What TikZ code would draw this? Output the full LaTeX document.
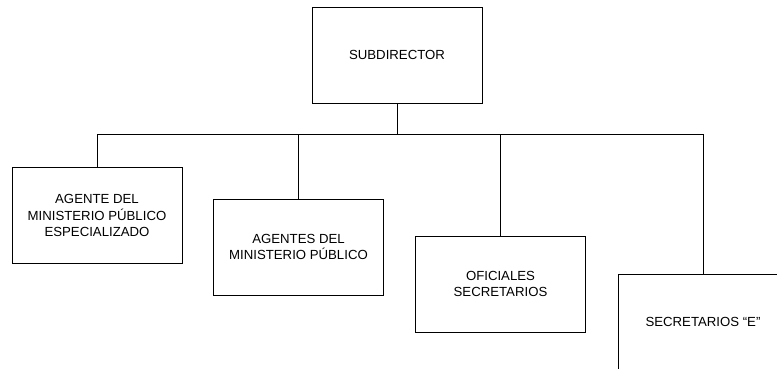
\documentclass[tikz,border=0pt]{standalone}
\usepackage{fontspec}
\setmainfont{Liberation Sans}
\begin{document}
\begin{tikzpicture}[x=1pt,y=-1pt,
  orgbox/.style={draw, line width=0.8pt, minimum width=170pt, minimum height=96pt, align=center, inner sep=0pt, font=\fontsize{13.2}{16.5}\selectfont},
  conn/.style={line width=0.8pt}]
\path[use as bounding box, clip] (0,0) rectangle (777,368);
\node[orgbox] (sub) at (397,55) {SUBDIRECTOR};
\node[orgbox] (a1) at (97,215.5) {AGENTE DEL\\MINISTERIO PÚBLICO\\ESPECIALIZADO};
\node[orgbox] (a2) at (298.5,247) {AGENTES DEL\\MINISTERIO PÚBLICO};
\node[orgbox] (a3) at (500.5,284) {OFICIALES\\SECRETARIOS};
\node[orgbox] (a4) at (703,322) {SECRETARIOS “E”};
\coordinate (jL) at (97,134);
\coordinate (jR) at (704,134);
\draw[conn] (jL) -- (jR);
\draw[conn] (sub.south) -- (sub.south|-jL);
\draw[conn] (a1.north) -- (a1.north|-jL);
\draw[conn] (a2.north) -- (a2.north|-jL);
\draw[conn] (a3.north) -- (a3.north|-jL);
\draw[conn] (a4.north) -- (a4.north|-jL);
\end{tikzpicture}
\end{document}
